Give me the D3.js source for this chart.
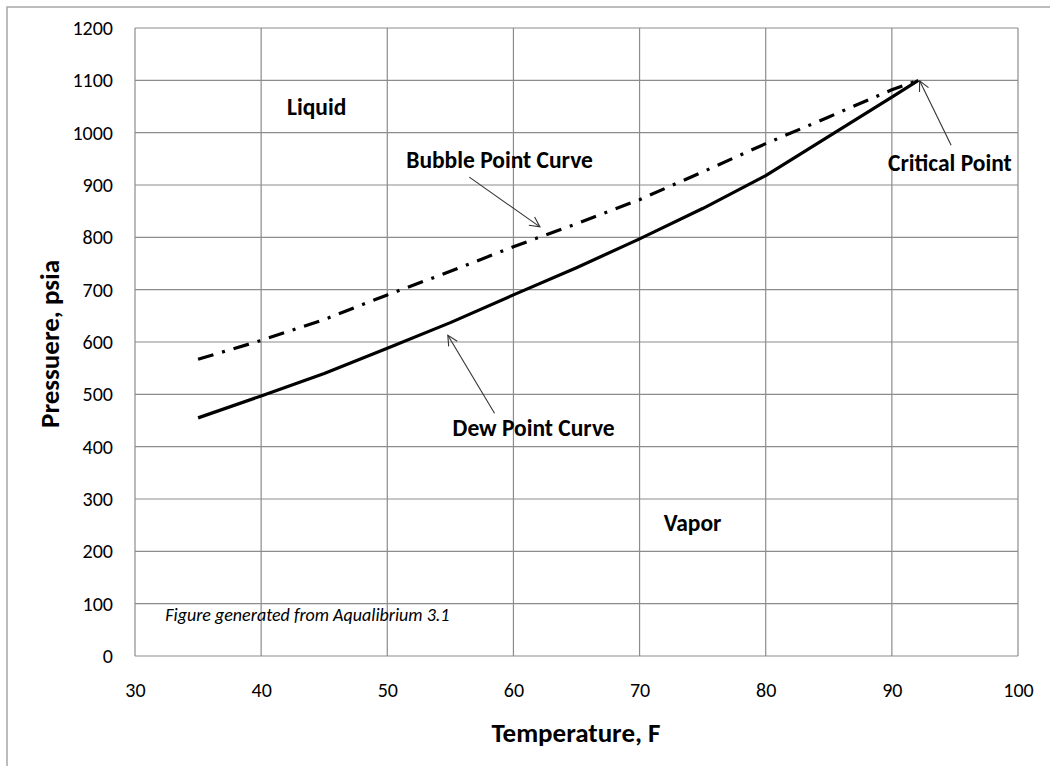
<!DOCTYPE html>
<html>
<head>
<meta charset="utf-8">
<script src="https://cdn.jsdelivr.net/npm/d3@7"></script>
<style>
  html, body { margin: 0; padding: 0; background: #fff; }
  svg { display: block; }
  text { font-family: Carlito, Lato, "Open Sans", sans-serif; fill: #000; }
</style>
</head>
<body>
<svg id="chart" width="1050" height="766"></svg>
<script>
// ---- data ----
const dewTemps     = [35, 40, 45, 50, 55, 60, 65, 70, 75, 80, 85, 90, 92.1];
const dewPressure  = [455, 497, 540, 588, 637, 690, 742, 797, 855, 918, 993, 1068, 1100];
const bubbleTemps    = [35, 40, 45, 50, 55, 60, 65, 70, 75, 80, 85, 90, 92.1];
const bubblePressure = [567, 603, 643, 690, 735, 782, 826, 872, 925, 979, 1030, 1082, 1100];
const xTicks = [30, 40, 50, 60, 70, 80, 90, 100];
const yTicks = [0, 100, 200, 300, 400, 500, 600, 700, 800, 900, 1000, 1100, 1200];
const regionLabels = [
  { text: "Liquid", t: 44.4, p: 1049 },
  { text: "Vapor",  t: 74.2, p: 254 }
];
const annotations = [
  { text: "Bubble Point Curve", lt: 58.9, lp: 948, fromT: 56.5, fromP: 915, toT: 62.1, toP: 820 },
  { text: "Dew Point Curve",    lt: 61.6, lp: 436, fromT: 58.5, fromP: 464, toT: 54.8, toP: 613 },
  { text: "Critical Point",     lt: 94.6, lp: 942, fromT: 94.7, fromP: 976, toT: 92.2, toP: 1099 }
];
const footnote = { text: "Figure generated from Aqualibrium 3.1", t: 32.4, p: 78 };

// ---- layout ----
const svg = d3.select("#chart");
const plot = { left: 135, top: 28, right: 1018, bottom: 656 };
const x = d3.scaleLinear().domain([30, 100]).range([plot.left, plot.right]);
const y = d3.scaleLinear().domain([0, 1200]).range([plot.bottom, plot.top]);

// outer chart border
svg.append("rect")
  .attr("x", 7).attr("y", 7).attr("width", 1100).attr("height", 800)
  .attr("fill", "none").attr("stroke", "#a6a6a6").attr("stroke-width", 1.5);

// grid
const grid = svg.append("g");
grid.selectAll("line.v").data(xTicks).join("line")
  .attr("x1", d => x(d)).attr("x2", d => x(d))
  .attr("y1", plot.top).attr("y2", plot.bottom)
  .attr("stroke", "#8c8c8c").attr("stroke-width", 1.2);
grid.selectAll("line.h").data(yTicks).join("line")
  .attr("x1", plot.left).attr("x2", plot.right)
  .attr("y1", d => y(d)).attr("y2", d => y(d))
  .attr("stroke", "#8c8c8c").attr("stroke-width", 1.2);

// axes (labels only)
const xAxis = svg.append("g").attr("transform", `translate(0,${plot.bottom})`)
  .call(d3.axisBottom(x).tickValues(xTicks).tickSize(0).tickPadding(27).tickFormat(d3.format("d")));
const yAxis = svg.append("g").attr("transform", `translate(${plot.left},0)`)
  .call(d3.axisLeft(y).tickValues(yTicks).tickSize(0).tickPadding(22).tickFormat(d3.format("d")));
[xAxis, yAxis].forEach(a => {
  a.select(".domain").remove();
  a.selectAll("text").style("font-family", "Carlito, Lato, 'Open Sans', sans-serif")
    .style("font-size", "20px").attr("fill", "#1a1a1a");
});

// axis titles
svg.append("text").attr("x", 576).attr("y", 742).attr("text-anchor", "middle")
  .style("font-size", "27px").style("font-weight", "bold").text("Temperature, F");
svg.append("text").attr("transform", "translate(59,344) rotate(-90)").attr("text-anchor", "middle")
  .style("font-size", "27px").style("font-weight", "bold").text("Pressuere, psia");

// curves
const line = d3.line().x(d => x(d[0])).y(d => y(d[1]));
const dew = dewTemps.map((t, i) => [t, dewPressure[i]]);
const bubble = bubbleTemps.map((t, i) => [t, bubblePressure[i]]);
svg.append("path").datum(bubble).attr("d", line)
  .attr("fill", "none").attr("stroke", "#000").attr("stroke-width", 3.2)
  .attr("stroke-dasharray", "16,9,3,9");
svg.append("path").datum(dew).attr("d", line)
  .attr("fill", "none").attr("stroke", "#000").attr("stroke-width", 3.2)
  .attr("stroke-linejoin", "round");

// annotation arrows
svg.append("defs").append("marker")
  .attr("id", "arr").attr("viewBox", "0 0 12 12").attr("refX", 11).attr("refY", 6)
  .attr("markerWidth", 12).attr("markerHeight", 12).attr("markerUnits", "userSpaceOnUse")
  .attr("orient", "auto")
  .append("path").attr("d", "M1,1 L11,6 L1,11").attr("fill", "none")
  .attr("stroke", "#333").attr("stroke-width", 1.1);
svg.selectAll("line.ann").data(annotations).join("line")
  .attr("x1", d => x(d.fromT)).attr("y1", d => y(d.fromP))
  .attr("x2", d => x(d.toT)).attr("y2", d => y(d.toP))
  .attr("stroke", "#333").attr("stroke-width", 1.1).attr("marker-end", "url(#arr)");
svg.selectAll("text.ann").data(annotations).join("text")
  .attr("x", d => x(d.lt)).attr("y", d => y(d.lp)).attr("text-anchor", "middle")
  .attr("dy", "0.35em").style("font-size", "23.5px").style("font-weight", "bold").text(d => d.text);
svg.selectAll("text.region").data(regionLabels).join("text")
  .attr("x", d => x(d.t)).attr("y", d => y(d.p)).attr("text-anchor", "middle")
  .attr("dy", "0.35em").style("font-size", "23.5px").style("font-weight", "bold").text(d => d.text);

// footnote
svg.append("text").attr("x", x(footnote.t)).attr("y", y(footnote.p)).attr("dy", "0.35em")
  .style("font-size", "18px").style("font-style", "italic").attr("fill", "#222").text(footnote.text);
</script>
</body>
</html>
